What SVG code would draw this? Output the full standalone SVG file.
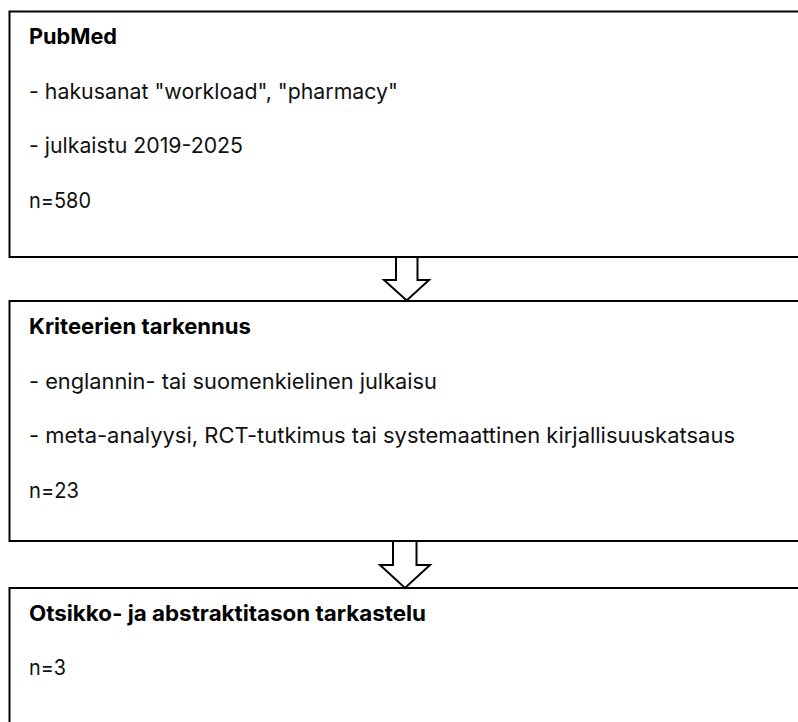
<svg xmlns="http://www.w3.org/2000/svg" width="798" height="722" viewBox="0 0 798 722">
<style>
.box{fill:#ffffff;stroke:#000000;stroke-width:2}
.arrow{fill:#ffffff;stroke:#000000;stroke-width:2;stroke-linejoin:miter}
text{font-family:Inter,"Liberation Sans",Arial,sans-serif;font-size:21.5px;fill:#111111}
.h{font-weight:bold;fill:#000000}
</style>
<rect width="798" height="722" fill="#ffffff"/>
<g id="node-pubmed">
<rect class="box" x="9.5" y="11.5" width="800" height="245.5"/>
<text class="h" x="29" y="44" textLength="88" lengthAdjust="spacingAndGlyphs">PubMed</text>
<text x="29" y="98.5" textLength="369" lengthAdjust="spacingAndGlyphs">- hakusanat "workload", "pharmacy"</text>
<text x="29" y="153" textLength="214" lengthAdjust="spacingAndGlyphs">- julkaistu 2019-2025</text>
<text x="29" y="207.5" textLength="62" lengthAdjust="spacingAndGlyphs">n=580</text>
</g>
<g id="node-kriteerit">
<rect class="box" x="9.5" y="301" width="800" height="240"/>
<text class="h" x="29" y="333.5" textLength="222" lengthAdjust="spacingAndGlyphs">Kriteerien tarkennus</text>
<text x="29" y="388.5" textLength="408" lengthAdjust="spacingAndGlyphs">- englannin- tai suomenkielinen julkaisu</text>
<text x="29" y="443" textLength="706" lengthAdjust="spacingAndGlyphs">- meta-analyysi, RCT-tutkimus tai systemaattinen kirjallisuuskatsaus</text>
<text x="29" y="498" textLength="50" lengthAdjust="spacingAndGlyphs">n=23</text>
</g>
<g id="node-otsikko">
<rect class="box" x="9.5" y="588" width="800" height="160"/>
<text class="h" x="29" y="621" textLength="397" lengthAdjust="spacingAndGlyphs">Otsikko- ja abstraktitason tarkastelu</text>
<text x="29" y="675" textLength="37" lengthAdjust="spacingAndGlyphs">n=3</text>
</g>
<g id="connectors">
<path class="arrow" d="M396,257 L417.5,257 L417.5,280 L429,280 L406.7,300.5 L384,280 L396,280 Z"/>
<path class="arrow" d="M393,541 L416.5,541 L416.5,565 L430,565 L405,588 L380,565 L393,565 Z"/>
</g>
</svg>
